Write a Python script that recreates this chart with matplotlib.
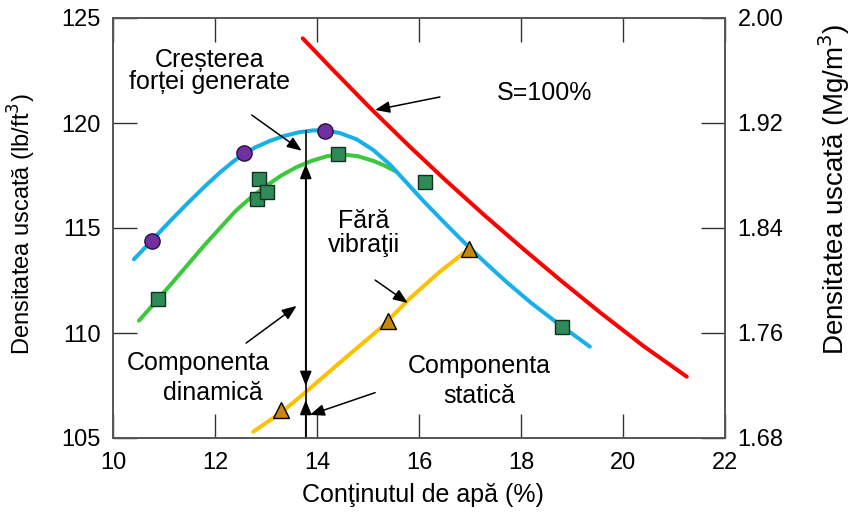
import matplotlib
matplotlib.use('Agg')
import matplotlib.pyplot as plt
from matplotlib.ticker import FormatStrFormatter

plt.rcParams['font.family'] = ['Liberation Sans', 'DejaVu Sans']

# ---- data ----
# S=100% (zero air voids) curve
red_x = [13.72, 14.30, 15.07, 15.80, 16.50, 17.30, 18.08, 18.80, 19.55, 20.40, 21.25]
red_y = [124.03, 122.56, 120.65, 118.92, 117.32, 115.57, 113.93, 112.46, 110.98, 109.38, 107.92]

# upper curve (blue)
blue_x = [10.41, 10.76, 11.10, 11.45, 11.80, 12.10, 12.35, 12.56, 12.80, 13.08, 13.35, 13.65,
          13.93, 14.16, 14.45, 14.78, 15.10, 15.43, 15.75, 16.08, 16.50, 16.87, 17.30, 17.72,
          18.20, 18.70, 19.35]
blue_y = [113.51, 114.40, 115.28, 116.15, 116.98, 117.65, 118.15, 118.52, 118.85, 119.15, 119.38,
          119.56, 119.65, 119.65, 119.52, 119.22, 118.72, 118.02, 117.18, 116.30, 115.25, 114.35,
          113.35, 112.42, 111.43, 110.50, 109.35]

# middle curve (green)
green_x = [10.51, 10.89, 11.20, 11.50, 11.80, 12.10, 12.40, 12.70, 13.00, 13.30, 13.60, 13.90,
           14.20, 14.50, 14.80, 15.10, 15.30, 15.56]
green_y = [110.59, 111.63, 112.50, 113.35, 114.20, 115.00, 115.80, 116.45, 117.00, 117.50, 117.90,
           118.20, 118.42, 118.50, 118.42, 118.20, 118.00, 117.68]

# no vibration (yellow)
yellow_x = [12.75, 13.29, 13.78, 14.50, 15.24, 15.82, 16.41, 16.95]
yellow_y = [105.30, 106.20, 107.19, 108.70, 110.22, 111.65, 112.92, 113.95]

# measured points
circle_x = [10.76, 12.56, 14.16]
circle_y = [114.40, 118.56, 119.63]
square_x = [10.89, 12.82, 12.87, 13.01, 14.42, 16.12, 18.81]
square_y = [111.63, 116.40, 117.32, 116.70, 118.52, 117.20, 110.30]
tri_x = [13.29, 15.40, 16.98]
tri_y = [106.33, 110.55, 114.00]

x_ticks = [10, 12, 14, 16, 18, 20, 22]
y_ticks = [105, 110, 115, 120, 125]
y2_ticks = [1.68, 1.76, 1.84, 1.92, 2.00]

x_vert = 13.78

# ---- figure ----
W, H = 851, 518
fig = plt.figure(figsize=(W / 100, H / 100), dpi=100)
ax = fig.add_axes([113 / W, 1 - 438 / H, 612 / W, 420 / H])
ax.set_xlim(10, 22)
ax.set_ylim(105, 125)

kw = dict(lw=2.9, solid_capstyle='round', solid_joinstyle='round')
ax.plot(red_x, red_y, color='#FF0000', zorder=3, **kw)
ax.plot(blue_x, blue_y, color='#19B0EA', zorder=3, **kw)
ax.plot(green_x, green_y, color='#3CC83C', zorder=2.9, **kw)
ax.plot(yellow_x, yellow_y, color='#FFC000', zorder=3, **kw)

ax.plot(circle_x, circle_y, 'o', ms=11, mfc='#7030A0', mec='#2a1040', mew=1, zorder=5)
ax.plot(square_x, square_y, 's', ms=10, mfc='#2E8B57', mec='#123020', mew=1, zorder=5)
ax.plot(tri_x, tri_y, '^', ms=12, mfc='#C8860B', mec='#000000', mew=1, zorder=5)

# vertical line with arrows
ax.plot([x_vert, x_vert], [105, 119.62], color='k', lw=1.2, zorder=4)
hs = '-|>,head_length=0.55,head_width=0.22'
hs2 = '<|-|>,head_length=0.55,head_width=0.22'
ax.annotate('', xy=(x_vert, 118.05), xytext=(x_vert, 107.48),
            arrowprops=dict(arrowstyle=hs2, color='k', lw=1.2, mutation_scale=16,
                            shrinkA=0, shrinkB=0), zorder=4)
ax.annotate('', xy=(x_vert, 106.81), xytext=(x_vert, 105.0),
            arrowprops=dict(arrowstyle=hs, color='k', lw=1.2, mutation_scale=16,
                            shrinkA=0, shrinkB=0), zorder=4)

def arrow(tail, head):
    ax.annotate('', xy=head, xytext=tail,
                arrowprops=dict(arrowstyle=hs, color='k', lw=1.1, mutation_scale=16,
                                shrinkA=0, shrinkB=0), zorder=4)

arrow((12.72, 120.38), (13.70, 118.68))   # Creșterea
arrow((16.41, 121.24), (15.14, 120.62))   # S=100%
arrow((15.14, 112.52), (15.78, 111.43))   # Fără vibraţii
arrow((12.61, 109.52), (13.60, 111.29))   # Componenta dinamică
arrow((15.14, 107.16), (13.86, 106.10))   # Componenta statică

fs = 18
def txt(x, y, s):
    ax.text(x, y, s, ha='center', va='center', fontsize=fs, zorder=6)

txt(11.90, 122.99, 'Creșterea')
txt(11.90, 121.94, 'forței generate')
txt(18.47, 121.42, 'S=100%')
txt(14.92, 115.31, 'Fără')
txt(14.92, 114.18, 'vibraţii')
txt(11.67, 108.55, 'Componenta')
txt(11.95, 107.12, 'dinamică')
txt(17.18, 108.43, 'Componenta')
txt(17.18, 107.00, 'statică')

# axes styling
ax.set_xticks(x_ticks)
ax.set_yticks(y_ticks)
ax.tick_params(axis='x', which='both', direction='in', length=17, width=1,
               top=True, bottom=True, labelsize=17, pad=10, color='#333333')
ax.tick_params(axis='y', which='both', direction='in', length=17, width=1,
               left=True, right=False, labelsize=17, pad=9, color='#333333')
for sp in ax.spines.values():
    sp.set_color('#555555')
    sp.set_linewidth(1.2)

ax2 = ax.twinx()
ax2.set_ylim(1.68, 2.00)
ax2.set_yticks(y2_ticks)
ax2.yaxis.set_major_formatter(FormatStrFormatter('%.2f'))
ax2.tick_params(axis='y', direction='in', length=17, width=1, labelsize=17, pad=9,
                color='#333333')
for sp in ax2.spines.values():
    sp.set_color('#555555')
    sp.set_linewidth(1.2)

fig.text(22 / W, 1 - 224 / H, 'Densitatea uscată (lb/ft$^3$)', rotation=90,
         ha='center', va='center', fontsize=17)
fig.text(834 / W, 1 - 189 / H, 'Densitatea uscată (Mg/m$^3$)', rotation=90,
         ha='center', va='center', fontsize=20)
fig.text(423 / W, 1 - 495 / H, 'Conţinutul de apă (%)', ha='center', va='center',
         fontsize=18)

fig.savefig('out.png', dpi=100)
